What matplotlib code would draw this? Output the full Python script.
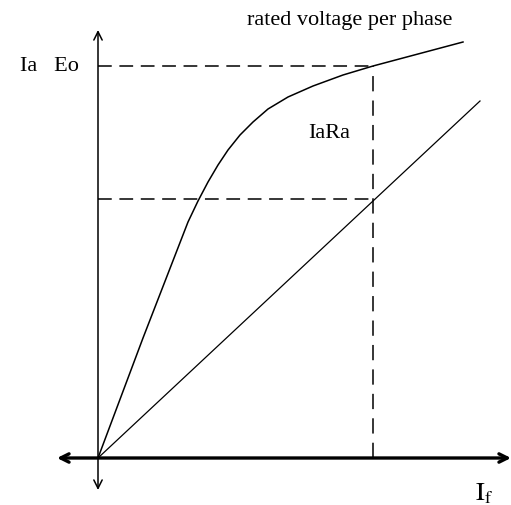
import matplotlib.pyplot as plt

plt.rcParams['font.family'] = ['Liberation Serif', 'DejaVu Serif']
plt.rcParams['mathtext.fontset'] = 'stix'

# --- Open circuit characteristic (Eo vs If) ---
if_occ = [0, 45, 90, 100, 110, 120, 130, 142, 155, 170, 190, 215, 245, 275, 320, 365]
eo_occ = [0, 120, 236, 257, 276, 293, 308, 323, 336, 349, 361, 372, 383, 392, 404, 416]

# --- Short circuit characteristic (Ia vs If) ---
if_scc = [0, 382]
ia_scc = [0, 357]

# rated operating point
if_rated = 275
eo_rated = 392
ia_rated = 259

fig = plt.figure(figsize=(5.11, 5.06), dpi=100)
ax = fig.add_axes([0, 0, 1, 1])
ax.set_xlim(-98, 413)
ax.set_ylim(-47, 459)
ax.axis('off')

# axes with open arrowheads
ax.annotate('', xy=(413, 0), xytext=(-41, 0),
            arrowprops=dict(arrowstyle='<->', lw=2.4, color='black',
                            mutation_scale=15, shrinkA=0, shrinkB=0))
ax.annotate('', xy=(0, 428), xytext=(0, -32),
            arrowprops=dict(arrowstyle='<->', lw=1.1, color='black',
                            mutation_scale=15, shrinkA=0, shrinkB=0))

# curves
ax.plot(if_occ, eo_occ, color='black', lw=1.1)
ax.plot(if_scc, ia_scc, color='black', lw=0.9)

# dashed guides
dash = (0, (9, 5))
ax.plot([0, if_rated], [eo_rated, eo_rated], color='black', lw=1.1, linestyle=dash)
ax.plot([0, if_rated], [ia_rated, ia_rated], color='black', lw=1.1, linestyle=dash)
ax.plot([if_rated, if_rated], [0, eo_rated], color='black', lw=1.1, linestyle=(0, (10, 6)))

# labels
ax.text(252, 439, 'rated voltage per phase', fontsize=16, ha='center', va='center')
ax.text(-49, 393, 'Ia   Eo', fontsize=16, ha='center', va='center')
ax.text(231, 326, 'IaRa', fontsize=16, ha='center', va='center')
ax.text(386, -35, r'$\mathrm{I}_{\mathrm{f}}$', fontsize=19, ha='center', va='center')

fig.savefig('out.png', dpi=100)
